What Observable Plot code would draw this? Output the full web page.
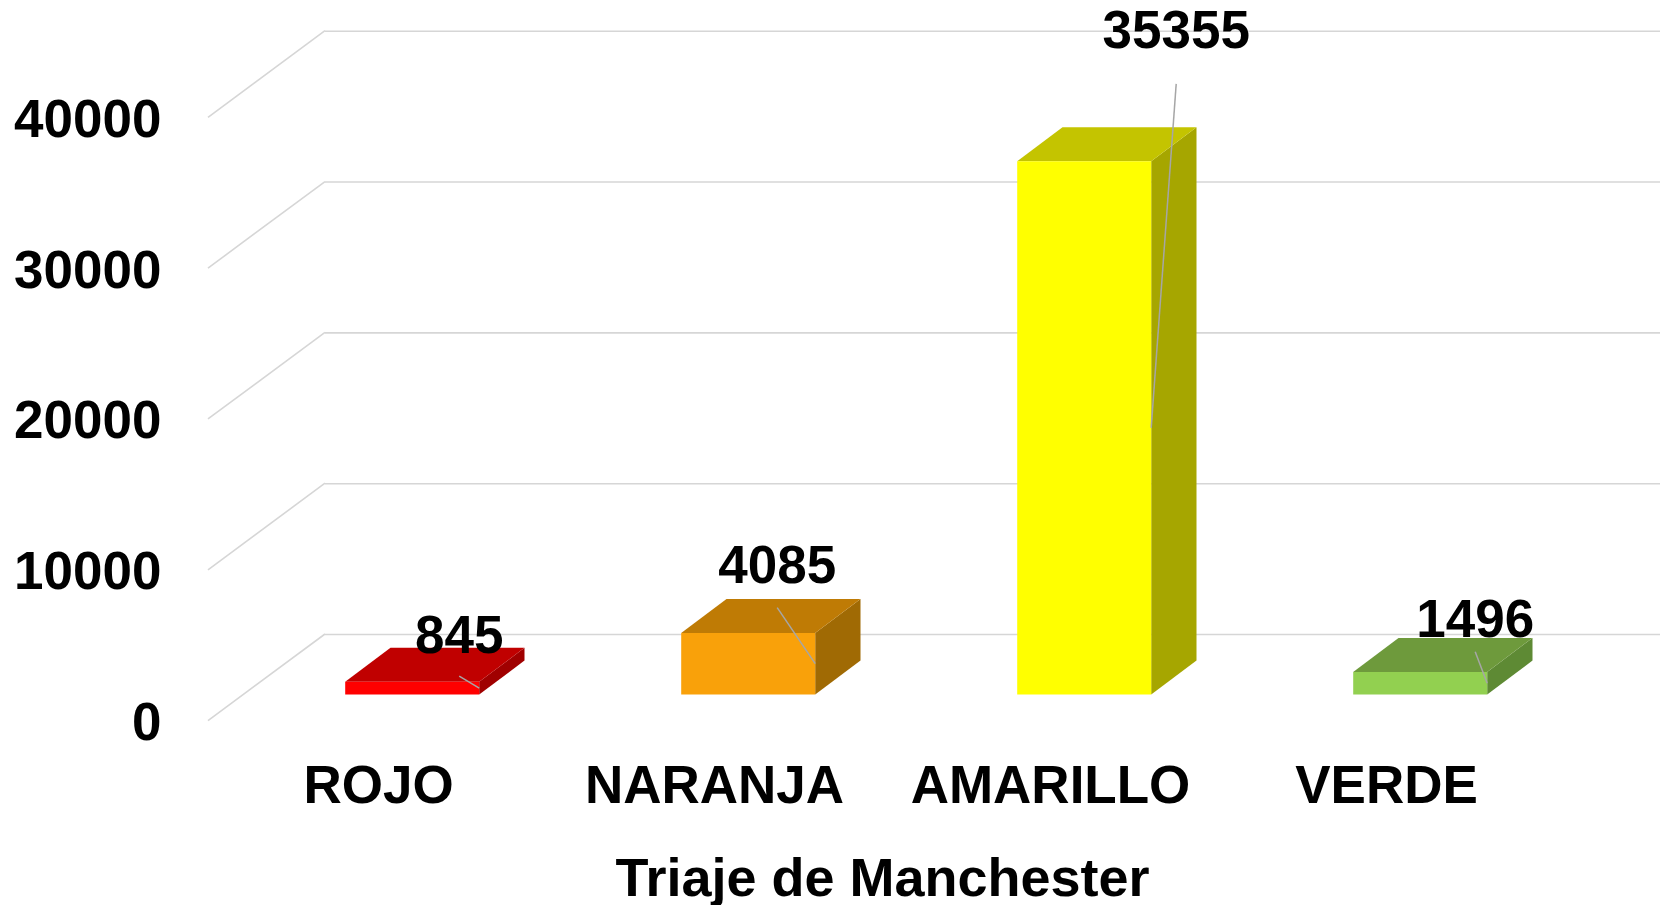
<!DOCTYPE html>
<html><head><meta charset="utf-8">
<script src="https://cdn.jsdelivr.net/npm/d3@7"></script>
<script src="https://cdn.jsdelivr.net/npm/@observablehq/plot@0.6"></script>
<style>html,body{margin:0;padding:0;background:#fff;overflow:hidden}</style>
</head><body><div id="chart"></div>
<script>
// ---- data ----
const categories = ["ROJO", "NARANJA", "AMARILLO", "VERDE"];
const values = [845, 4085, 35355, 1496];
const yTicks = [0, 10000, 20000, 30000, 40000];
const xTitle = "Triaje de Manchester";

// ---- styles ----
const frontColors = ["#FF0000", "#F9A10A", "#FFFF00", "#92D050"];
const topColors   = ["#C00000", "#BF7B05", "#C4C400", "#6E9A3C"];
const sideColors  = ["#A00000", "#A06A04", "#A6A600", "#5E8A34"];
const gridColor = "#D6D6D6";
const leaderColor = "#A6A6A6";
const FONT = "'Liberation Sans', Arial, sans-serif";
const FS = 53;
const FS_TITLE = 54;

// ---- 3D geometry (pixel offsets of the oblique projection) ----
const xRange = [325, 1671];
const WALL = {dx: -117, dy: 86.6};     // side wall / floor depth
const FRONT = {dx: -81.8, dy: 60.5};   // bar front face
const BACK = {dx: -36.5, dy: 26.5};    // bar back face
const labelNudge = {
  ROJO: {dx: -20, dy: -54, gap: 42},
  NARANJA: {dx: -38, dy: -100, gap: 44},
  AMARILLO: {dx: 25, dy: -399, gap: 55},
  VERDE: {dx: -12, dy: -65.5, gap: 34}
};

const data = categories.map((c, i) => ({cat: c, value: values[i], i}));

function wallLines(index, scales) {
  const y = scales.y;
  const g = d3.create("svg:g").attr("stroke", gridColor).attr("stroke-width", 1.6).attr("fill", "none");
  for (const t of yTicks) {
    g.append("line")
      .attr("x1", xRange[0]).attr("y1", y(t))
      .attr("x2", xRange[0] + WALL.dx).attr("y2", y(t) + WALL.dy);
  }
  return g.node();
}

function bars3d(index, scales) {
  const {x, y} = scales;
  const bw = x.bandwidth();
  const g = d3.create("svg:g");
  data.forEach(d => {
    const x0 = x(d.cat), y0 = y(0), y1 = y(d.value);
    const fl = x0 + FRONT.dx, fr = fl + bw, ft = y1 + FRONT.dy, fb = y0 + FRONT.dy;
    const bl = x0 + BACK.dx, br = bl + bw, bt = y1 + BACK.dy, bb = y0 + BACK.dy;
    g.append("path").attr("fill", sideColors[d.i])
      .attr("d", `M${fr},${ft}L${br},${bt}L${br},${bb}L${fr},${fb}Z`);
    g.append("path").attr("fill", topColors[d.i])
      .attr("d", `M${fl},${ft}L${bl},${bt}L${br},${bt}L${fr},${ft}Z`);
    g.append("path").attr("fill", frontColors[d.i])
      .attr("d", `M${fl},${ft}L${fr},${ft}L${fr},${fb}L${fl},${fb}Z`);
  });
  return g.node();
}

function dataLabels(index, scales) {
  const {x, y} = scales;
  const bw = x.bandwidth();
  const g = d3.create("svg:g");
  data.forEach(d => {
    const ax = x(d.cat) + FRONT.dx + bw;
    const ay = (y(0) + y(d.value)) / 2 + FRONT.dy;
    const n = labelNudge[d.cat];
    const lx = ax + n.dx, ly = ay + n.dy;
    g.append("line").attr("stroke", leaderColor).attr("stroke-width", 1.5)
      .attr("x1", lx).attr("y1", ly + n.gap).attr("x2", ax).attr("y2", ay);
    g.append("text").attr("x", lx).attr("y", ly + 0.36 * FS)
      .attr("text-anchor", "middle").attr("font-family", FONT)
      .attr("font-size", FS).attr("font-weight", "bold").attr("fill", "#000")
      .text(String(d.value));
  });
  return g.node();
}

const chart = Plot.plot({
  width: 1660, height: 905,
  marginTop: 0, marginRight: 0, marginBottom: 0, marginLeft: 0,
  style: {fontFamily: FONT, fontSize: FS + "px", fontWeight: "bold", color: "#000", background: "#fff", overflow: "visible"},
  x: {type: "band", domain: categories, range: xRange, paddingInner: 0.6, paddingOuter: 0.3},
  y: {type: "linear", domain: [0, 40000], range: [634, 30.7]},
  marks: [
    Plot.ruleY(yTicks, {stroke: gridColor, strokeWidth: 1.6, insetLeft: xRange[0]}),
    wallLines,
    bars3d,
    dataLabels,
    Plot.axisY(yTicks, {anchor: "left", tickSize: 0, tickPadding: 0, tickFormat: d => String(d),
      dx: 161, dy: 88.6, fontSize: FS, fontWeight: "bold", fontFamily: FONT, label: null}),
    Plot.axisX({anchor: "bottom", tickSize: 0, tickPadding: 0, dx: WALL.dx + 1, dy: -119.5,
      lineAnchor: "middle", fontSize: FS, fontWeight: "bold", fontFamily: FONT, label: null}),
    Plot.text([xTitle], {frameAnchor: "bottom", text: d => d, dx: 52, dy: -26.4, lineAnchor: "middle",
      fontSize: FS_TITLE, fontWeight: "bold", fontFamily: FONT, fill: "#000"})
  ]
});
document.getElementById("chart").appendChild(chart);
</script>
</body></html>
